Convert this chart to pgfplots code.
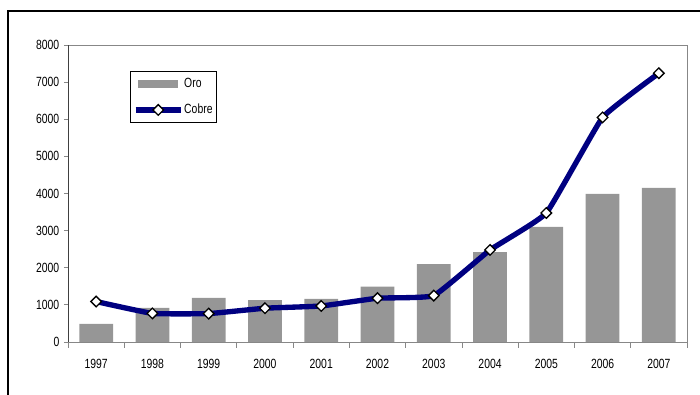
\documentclass[border=0pt]{standalone}
\usepackage{fontspec}
\setmainfont{Liberation Sans}[FakeStretch=0.78]
\usepackage{pgfplots}
\pgfplotsset{compat=1.18}
\definecolor{oro}{RGB}{150,150,150}
\definecolor{cobre}{RGB}{0,0,128}
\definecolor{axisgray}{RGB}{135,135,135}
\pgfplotsset{
    long line legend/.style={legend image code/.code={%
        \draw[##1, mark repeat=2, mark phase=2] plot coordinates {(0pt,0pt) (17pt,0pt) (34pt,0pt)};}},
    box legend/.style={legend image code/.code={%
        \fill[oro] (2pt,-3pt) rectangle (32pt,3pt);}},
}

\begin{document}
\begin{tikzpicture}
\useasboundingbox (0,0) rectangle (525pt,296.25pt);
% outer frame (left and top edges only visible)
\draw[line width=1.6pt] (6pt,-2pt) -- (6pt,288pt) -- (530pt,288pt);
\begin{axis}[
    anchor=south west, at={(51pt,39.75pt)},
    scale only axis, width=464.25pt, height=222.75pt,
    xmin=-0.5, xmax=10.5, ymin=0, ymax=8000,
    ytick={0,1000,...,8000},
    xtick={0,...,10},
    xticklabels={1997,1998,1999,2000,2001,2002,2003,2004,2005,2006,2007},
    minor xtick={-0.5,0.5,...,10.5},
    major x tick style={draw=none},
    xtick pos=bottom, ytick pos=left,
    tick align=outside,
    major tick length=3pt, minor tick length=4.5pt,
    axis line style={draw=axisgray},
    tick style={axisgray, line width=0.6pt},
    scaled y ticks=false,
    /pgf/number format/1000 sep={},
    /pgf/number format/assume math mode=true,
    ticklabel style={font=\fontsize{10}{12}\selectfont, text=black},
    xticklabel style={yshift=-6pt},
    legend style={at={(0.1,0.912)}, anchor=north west, draw=black, line width=0.5pt,
        font=\fontsize{10}{12}\selectfont, inner xsep=2pt, inner ysep=5pt,
        row sep=11pt, nodes={inner xsep=0.5pt, inner ysep=0pt}},
    legend cell align=left,
]
\addplot[ybar, bar width=0.6, fill=oro, draw=none, box legend]
    coordinates {(0,490) (1,920) (2,1190) (3,1130) (4,1160) (5,1490)
                 (6,2100) (7,2420) (8,3100) (9,3990) (10,4150)};
\addlegendentry{Oro}
\addplot[cobre, line width=4pt, smooth, tension=0.2,
    mark=square*, mark size=2.8pt,
    mark options={fill=white, draw=black, line width=1pt, solid, rotate=45},
    long line legend]
    coordinates {(0,1090) (1,770) (2,765) (3,910) (4,970) (5,1180)
                 (6,1250) (7,2480) (8,3475) (9,6050) (10,7240)};
\addlegendentry{Cobre}
\draw[black!75, line width=0.6pt] (rel axis cs:0,0) -- (rel axis cs:0,1);
\end{axis}
\end{tikzpicture}
\end{document}
